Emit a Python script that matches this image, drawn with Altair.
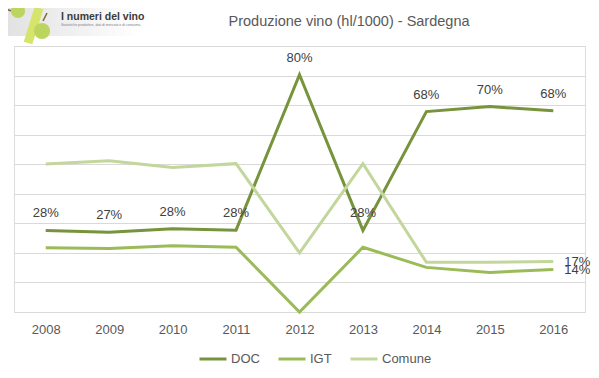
import altair as alt
import pandas as pd

years = ["2008", "2009", "2010", "2011", "2012", "2013", "2014", "2015", "2016"]
doc = [27.6, 27.0, 28.2, 27.7, 80.3, 27.6, 67.8, 69.5, 68.1]
igt = [21.7, 21.5, 22.4, 21.9, 0.0, 21.9, 15.1, 13.4, 14.4]
comune = [50.1, 51.2, 48.9, 50.2, 20.0, 50.2, 16.8, 16.8, 17.1]
series = ["DOC", "IGT", "Comune"]
colors = ["#77933C", "#9BBB59", "#C3D69B"]
title_text = "Produzione vino (hl/1000) - Sardegna"
logo_title = "I numeri del vino"
logo_sub = "Statistiche produttive, dati di mercato e di consumo."

rows = []
for name, vals in zip(series, [doc, igt, comune]):
    for yr, v in zip(years, vals):
        rows.append({"anno": yr, "serie": name, "valore": v})
df = pd.DataFrame(rows)

FONT = "Liberation Sans"

x_enc = alt.X(
    "anno:O", sort=years, title=None,
    scale=alt.Scale(type="point", padding=0.5),
    axis=alt.Axis(labelAngle=0, ticks=False, domain=False, grid=False,
                  labelFontSize=13, labelColor="#595959", labelPadding=11,
                  labelFont=FONT),
)
y_enc = alt.Y(
    "valore:Q", title=None,
    scale=alt.Scale(domain=[0, 90], nice=False, zero=True),
    axis=alt.Axis(values=list(range(0, 100, 10)), labels=False, ticks=False,
                  domain=False, grid=True, gridColor="#d9d9d9", gridWidth=1),
)

base = alt.Chart(df)

lines = base.mark_line(strokeWidth=3, strokeJoin="miter").encode(
    x=x_enc, y=y_enc,
    color=alt.Color(
        "serie:N",
        scale=alt.Scale(domain=series, range=colors),
        sort=series,
        legend=alt.Legend(
            orient="none", legendX=184, legendY=298, direction="horizontal",
            title=None, symbolType="stroke", symbolSize=729,
            symbolStrokeWidth=3, labelFontSize=13, labelColor="#595959",
            labelFont=FONT, columnPadding=12, labelOffset=3,
        ),
    ),
    order=alt.value(0),
)

doc_labels = base.transform_filter(alt.datum.serie == "DOC").transform_calculate(
    lab="format(datum.valore, '.0f') + '%'"
).mark_text(dy=-17, fontSize=13, color="#404040", font=FONT, baseline="middle").encode(
    x=x_enc, y=y_enc, text="lab:N"
)

end_labels = base.transform_filter(
    (alt.datum.anno == "2016") & (alt.datum.serie != "DOC")
).transform_calculate(
    lab="format(datum.valore, '.0f') + '%'"
).mark_text(dx=11, dy=1, align="left", baseline="middle", fontSize=13,
            color="#404040", font=FONT).encode(
    x=x_enc, y=y_enc, text="lab:N"
)

one = pd.DataFrame({"k": [0]})

bg = alt.Chart(one).mark_rect(
    color=alt.Gradient(
        gradient="linear",
        stops=[alt.GradientStop(color="#e2e2e2", offset=0),
               alt.GradientStop(color="#ffffff", offset=1)],
        x1=0, x2=1, y1=0, y2=0,
    )
).encode(x=alt.value(-6), x2=alt.value(126), y=alt.value(-38), y2=alt.value(-10))

slash = alt.Chart(one).mark_rule(strokeWidth=9, color="#d6e46c", strokeCap="butt").encode(
    x=alt.value(25), x2=alt.value(14), y=alt.value(-38), y2=alt.value(-3)
)
stem1 = alt.Chart(one).mark_rule(strokeWidth=1.5, color="#7a6a3a").encode(
    x=alt.value(-9), x2=alt.value(-2), y=alt.value(-37), y2=alt.value(-35)
)
stem2 = alt.Chart(one).mark_rule(strokeWidth=1.5, color="#7a6a3a").encode(
    x=alt.value(29), x2=alt.value(33), y=alt.value(-25), y2=alt.value(-33)
)
grape1 = alt.Chart(one).mark_circle(color="#bcd55e", opacity=1).encode(
    x=alt.value(4), y=alt.value(-35), size=alt.value(200)
)
grape2 = alt.Chart(one).mark_circle(color="#bcd55e", opacity=1).encode(
    x=alt.value(28), y=alt.value(-15), size=alt.value(260)
)
logo_t = alt.Chart(one).mark_text(
    text=logo_title, fontSize=10.5, font=FONT, color="#3a3a3a",
    align="left", baseline="alphabetic", fontWeight="bold"
).encode(x=alt.value(47), y=alt.value(-26.5))
logo_s = alt.Chart(one).mark_text(
    text=logo_sub, fontSize=3.5, font=FONT, color="#808080",
    align="left", baseline="alphabetic"
).encode(x=alt.value(47), y=alt.value(-20.5))

title = alt.Chart(one).mark_text(
    text=title_text, fontSize=14.5, font=FONT, color="#595959",
    align="center", baseline="middle"
).encode(x=alt.value(335), y=alt.value(-24))

chart = alt.layer(
    bg, slash, stem1, stem2, grape1, grape2, logo_t, logo_s, title,
    lines, doc_labels, end_labels,
).properties(
    width=571, height=266,
    autosize=alt.AutoSizeParams(type="none"),
    padding={"left": 6, "top": 38, "right": 6, "bottom": 58},
).configure_view(stroke=None).configure(font=FONT)

chart.save("out.html", embed_options={"renderer": "svg", "actions": False})
